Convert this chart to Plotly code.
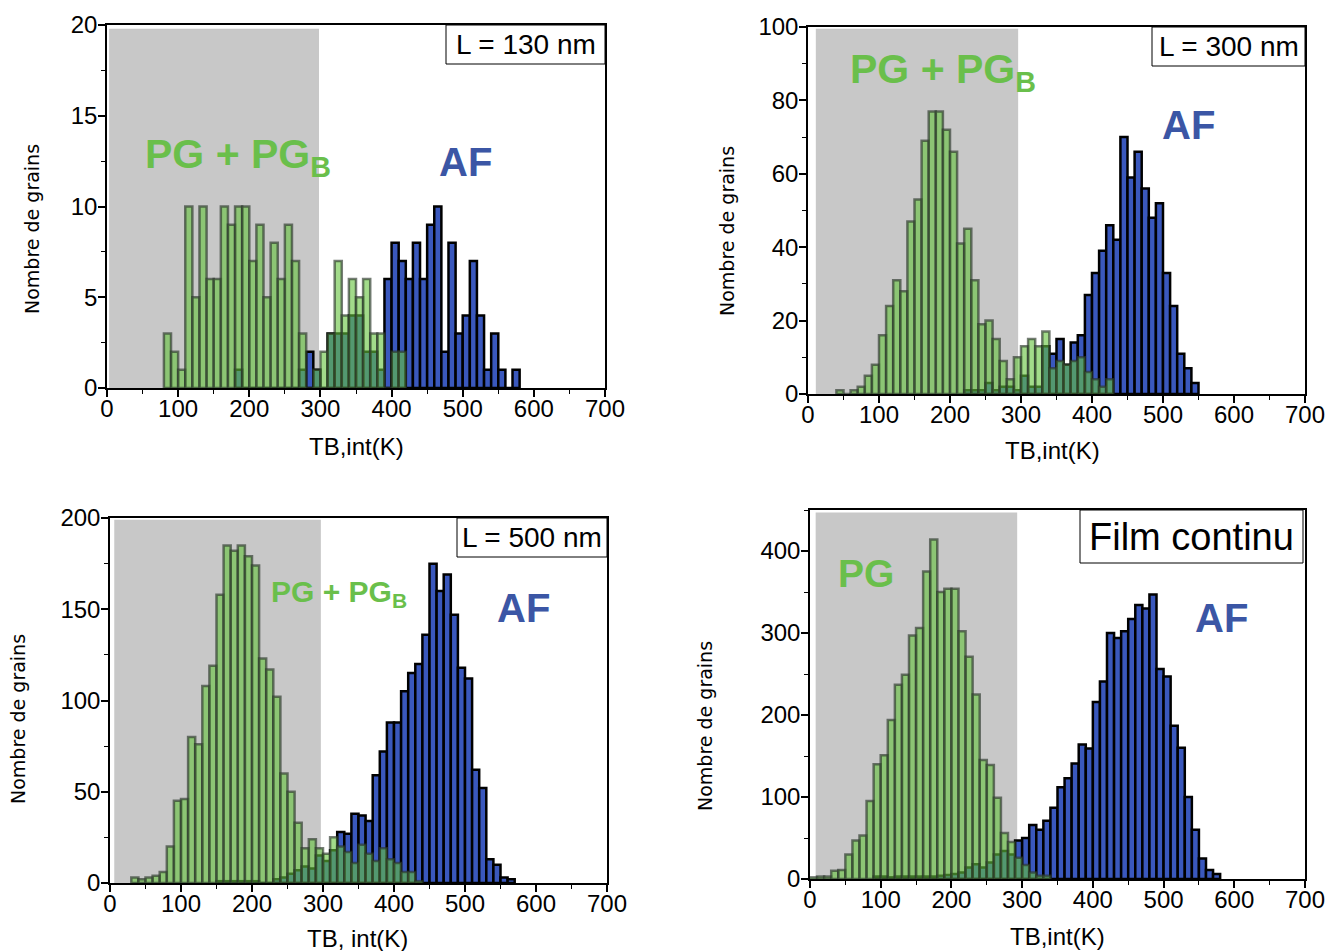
import plotly.graph_objects as go

W, H = 1328, 951
BIN = 10

# ---------------- data (counts per 10 K bin) ----------------
p1_green_start = 80
p1_green = [3, 2, 1, 10, 5, 10, 6, 6, 10, 9, 10, 10, 7, 9, 5, 8, 6, 9, 7, 3,
            0, 1, 2, 3, 7, 4, 6, 5, 6, 3, 3, 0, 2, 2]
p1_blue_start = 180
p1_blue = [1, 0, 0, 0, 0, 0, 0, 0, 0, 1, 2, 1, 0, 3, 3, 3, 4, 4, 2, 2, 1,
           6, 8, 7, 6, 8, 6, 9, 10, 2, 8, 3, 4, 7, 4, 1, 3, 1, 0, 1]

p2_green_start = 40
p2_green = [1, 0, 1, 2, 5, 8, 16, 24, 31, 28, 47, 53, 69, 77, 77, 72, 66, 41, 45, 31,
            19, 20, 15, 9, 4, 10, 13, 15, 13, 17, 7, 9, 8, 9, 10, 6, 4, 2, 4]
p2_blue_start = 220
p2_blue = [1, 1, 1, 3, 1, 2, 2, 1, 5, 2, 2, 13, 11, 15, 8, 14, 16, 27, 33, 39,
           46, 42, 70, 59, 66, 56, 48, 52, 33, 24, 11, 7, 3]

p3_green_start = 30
p3_green = [3, 2, 3, 4, 6, 20, 45, 46, 80, 76, 108, 119, 158, 185, 182, 185, 179, 174,
            123, 117, 102, 60, 50, 33, 19, 24, 19, 16, 25, 20, 17, 11, 21, 16, 12, 19,
            13, 11, 6, 6, 1]
p3_blue_start = 150
p3_blue = [1, 1, 1, 1, 1, 1, 0, 0, 2, 3, 5, 7, 9, 8, 15, 12, 18, 28, 27, 38, 37, 34,
           59, 72, 88, 88, 105, 115, 120, 136, 175, 160, 169, 147, 118, 112, 62, 52,
           13, 10, 3, 2]

p4_green_start = 0
p4_green = [2, 3, 3, 10, 11, 30, 47, 53, 95, 140, 151, 194, 237, 249, 297, 306, 375,
            414, 350, 354, 354, 302, 271, 225, 145, 139, 99, 56, 45, 26, 17, 8, 4, 4]
p4_blue_start = 90
p4_blue = [3, 3, 2, 3, 3, 3, 3, 3, 3, 4, 5, 6, 8, 14, 18, 14, 20, 30, 34, 30, 47, 50,
           66, 60, 71, 87, 112, 123, 141, 164, 159, 216, 241, 300, 294, 302, 317, 334,
           330, 347, 256, 247, 187, 160, 100, 60, 25, 11, 6]

x_ticks = [0, 100, 200, 300, 400, 500, 600, 700]
labels = ["L = 130 nm", "L = 300 nm", "L = 500 nm", "Film continu"]
x_title = ["TB,int(K)", "TB,int(K)", "TB, int(K)", "TB,int(K)"]
y_title = "Nombre de grains"

# ---------------- styling / layout helpers ----------------
def fx(p):
    return p / W

def fy(p):
    return 1 - p / H

GREEN_TXT = "#6abf4b"
BLUE_TXT = "#3b56a5"
GREEN_FILL = "rgba(100,195,60,0.6)"
GREEN_LINE = "rgba(45,55,45,0.65)"
BLUE_FILL = "#3a58bd"

# plot areas in pixels: (left, right, top, bottom)
areas = [(107, 605, 25, 388), (808, 1305, 27, 394), (110, 607, 518, 883), (810, 1305, 510, 879)]
y_ranges = [[0, 20], [0, 100], [0, 200], [0, 450]]
y_dticks = [5, 20, 50, 100]
grey_boxes = [(3, 298, 19.8), (11, 296, 99.5), (6, 297, 199), (8, 293, 447)]

series = [
    (p1_green_start, p1_green, p1_blue_start, p1_blue),
    (p2_green_start, p2_green, p2_blue_start, p2_blue),
    (p3_green_start, p3_green, p3_blue_start, p3_blue),
    (p4_green_start, p4_green, p4_blue_start, p4_blue),
]

fig = go.Figure()
layout = dict(width=W, height=H, autosize=False, margin=dict(l=0, r=0, t=0, b=0, pad=0),
              paper_bgcolor="white", plot_bgcolor="white", barmode="overlay",
              showlegend=False, shapes=[], annotations=[])

tick_font = dict(family="Liberation Sans, Arial, sans-serif", size=24, color="black")

for i, (gs, gv, bs, bv) in enumerate(series):
    n = "" if i == 0 else str(i + 1)
    xa, ya = "x" + n, "y" + n
    fig.add_trace(go.Bar(x0=bs + BIN / 2, dx=BIN, y=bv, width=BIN, xaxis=xa, yaxis=ya,
                         marker=dict(color=BLUE_FILL, line=dict(color="black", width=2.5))))
    fig.add_trace(go.Bar(x0=gs + BIN / 2, dx=BIN, y=gv, width=BIN, xaxis=xa, yaxis=ya,
                         marker=dict(color=GREEN_FILL, line=dict(color=GREEN_LINE, width=2.5))))
    l, r, t, b = areas[i]
    common = dict(showline=True, linecolor="black", linewidth=1.5, mirror=True,
                  ticks="outside", ticklen=7, tickwidth=1.5, tickcolor="black",
                  showgrid=False, zeroline=False, tickfont=tick_font, automargin=False)
    layout["xaxis" + n] = dict(common, domain=[fx(l), fx(r)], anchor=ya, range=[0, 700],
                               tickvals=x_ticks, ticklabelstandoff=-9,
                               minor=dict(ticks="outside", ticklen=4, tickwidth=1,
                                          tickcolor="black", dtick=50))
    layout["yaxis" + n] = dict(common, domain=[fy(b), fy(t)], anchor=xa, range=y_ranges[i],
                               dtick=y_dticks[i], ticklabelstandoff=-4,
                               minor=dict(ticks="outside", ticklen=4, tickwidth=1,
                                          tickcolor="black", dtick=y_dticks[i] / 2))
    gx0, gx1, gy1 = grey_boxes[i]
    layout["shapes"].append(dict(type="rect", xref=xa, yref=ya, x0=gx0, x1=gx1, y0=0, y1=gy1,
                                 fillcolor="#c8c8c8", line=dict(width=0), layer="below"))

# label boxes (pixels)
boxes = [(446, 605, 25, 64, 28), (1152, 1305, 27, 66, 28), (457, 607, 518, 557, 28),
         (1080, 1303, 510, 563, 38)]
for i, (l, r, t, b, fs) in enumerate(boxes):
    layout["shapes"].append(dict(type="rect", xref="paper", yref="paper",
                                 x0=fx(l), x1=fx(r), y0=fy(b), y1=fy(t),
                                 fillcolor="white", line=dict(color="black", width=1)))
    layout["annotations"].append(dict(text=labels[i], xref="paper", yref="paper",
                                      x=fx((l + r) / 2), y=fy((t + b) / 2), showarrow=False,
                                      xanchor="center", yanchor="middle",
                                      font=dict(family="Liberation Sans, Arial", size=fs,
                                                color="black")))

# phase labels (left x, middle y, size, text, colour)
phase = [
    (143, 157, 41, "PG + PG<sub>B</sub>", GREEN_TXT),
    (437, 162, 40, "AF", BLUE_TXT),
    (848, 72, 41, "PG + PG<sub>B</sub>", GREEN_TXT),
    (1160, 125, 40, "AF", BLUE_TXT),
    (269, 593, 30, "PG + PG<sub>B</sub>", GREEN_TXT),
    (495, 608, 40, "AF", BLUE_TXT),
    (836, 573, 39, "PG", GREEN_TXT),
    (1193, 618, 40, "AF", BLUE_TXT),
]
for (x, y, s, txt, c) in phase:
    layout["annotations"].append(dict(text="<b>" + txt + "</b>", xref="paper", yref="paper",
                                      x=fx(x), y=fy(y), showarrow=False, xanchor="left",
                                      yanchor="middle",
                                      font=dict(family="Liberation Sans, Arial", size=s,
                                                color=c)))

# axis titles
ytitle_pos = [(32, 229), (727, 231), (18, 719), (705, 726)]
xtitle_pos = [(356, 446), (1052, 451), (357, 938), (1057, 936)]
for i in range(4):
    x, y = ytitle_pos[i]
    layout["annotations"].append(dict(text=y_title, xref="paper", yref="paper", x=fx(x), y=fy(y),
                                      showarrow=False, textangle=-90, xanchor="center",
                                      yanchor="middle",
                                      font=dict(family="DejaVu Sans, Verdana", size=19,
                                                color="black")))
    x, y = xtitle_pos[i]
    layout["annotations"].append(dict(text=x_title[i], xref="paper", yref="paper", x=fx(x),
                                      y=fy(y), showarrow=False, xanchor="center",
                                      yanchor="middle",
                                      font=dict(family="Liberation Sans, Arial", size=24,
                                                color="black")))

fig.update_layout(**layout)
fig.write_html("out.html", config={"displayModeBar": False},
               post_script="document.body.style.margin='0px';document.body.style.padding='0px';"
                           "document.body.style.overflow='hidden';")
